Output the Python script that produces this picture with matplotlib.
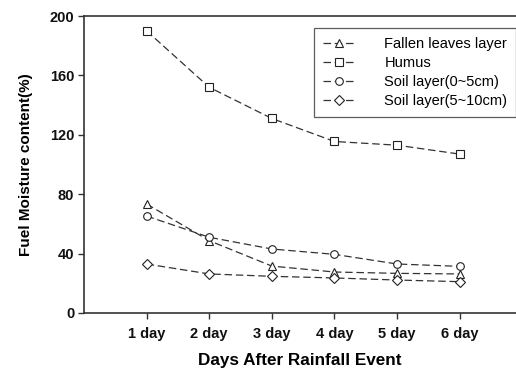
import matplotlib
matplotlib.use("Agg")
import matplotlib.pyplot as plt

plt.rcParams['font.family'] = ['Liberation Sans', 'DejaVu Sans']

days = [1, 2, 3, 4, 5, 6]
day_labels = ["1 day", "2 day", "3 day", "4 day", "5 day", "6 day"]

fallen_leaves = [73.4, 48.7, 31.6, 27.6, 26.7, 26.3]
humus = [190, 152, 131, 115.5, 113, 107]
soil_0_5 = [65.3, 51, 43.1, 39.5, 33, 31.4]
soil_5_10 = [33, 26.3, 24.7, 23.6, 22.2, 21.1]

series = [
    (fallen_leaves, '^', "Fallen leaves layer"),
    (humus, 's', "Humus"),
    (soil_0_5, 'o', "Soil layer(0~5cm)"),
    (soil_5_10, 'D', "Soil layer(5~10cm)"),
]

fig = plt.figure(figsize=(5.16, 3.71), dpi=100)
ax = fig.add_axes([84/516, 1 - 313/371, 1 - 84/516, 297/371])

for vals, mk, name in series:
    ms = 5 if mk == 'D' else 5.5
    ax.plot(days, vals, linestyle=(0, (6, 3)), color='#333333', lw=0.9,
            marker=mk, markersize=ms, markerfacecolor='white',
            markeredgecolor='#222222', markeredgewidth=0.8, label=name)

ax.set_xlim(0, 6.9)
ax.set_ylim(0, 200)
ax.set_yticks([0, 40, 80, 120, 160, 200])
ax.set_xticks(days)
ax.set_xticklabels(day_labels)
ax.spines['right'].set_visible(False)
for s in ['left', 'top', 'bottom']:
    ax.spines[s].set_linewidth(1.2)
    ax.spines[s].set_color('#333333')
ax.tick_params(axis='both', direction='out', length=4, width=1, colors='#333333',
               labelcolor='#111111', labelsize=10.5)
for lab in ax.get_xticklabels() + ax.get_yticklabels():
    lab.set_fontweight('bold')
ax.tick_params(axis='x', pad=6)
ax.tick_params(axis='y', pad=3)

ax.set_xlabel("Days After Rainfall Event", fontsize=12.3, fontweight='bold', labelpad=8.5)
ax.set_ylabel("Fuel Moisture content(%)", fontsize=11, fontweight='bold', labelpad=12)

leg = ax.legend(loc='upper right', bbox_to_anchor=(1.0, 0.96), fontsize=10.5,
                frameon=True, fancybox=False, edgecolor='#333333',
                handlelength=2.2, handletextpad=2.0, labelspacing=0.36,
                borderpad=0.6, borderaxespad=0.0)
leg.get_frame().set_linewidth(0.9)

fig.savefig("out.png", dpi=100)
